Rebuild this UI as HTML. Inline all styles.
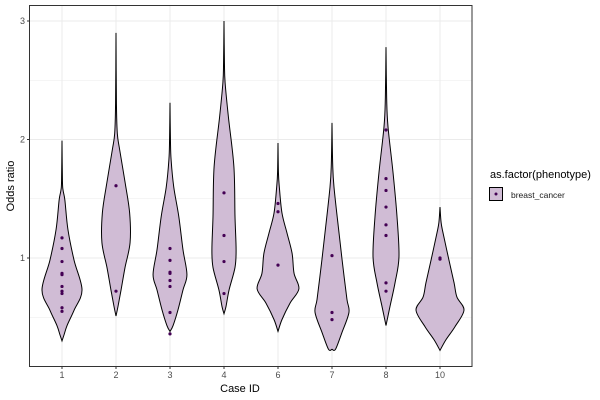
<!DOCTYPE html>
<html><head><meta charset="utf-8"><style>
body{margin:0;background:#fff}
svg{display:block;font-family:"Liberation Sans",sans-serif}
</style></head><body>
<svg id="chart" width="600" height="400">
<rect x="0" y="0" width="600" height="400" fill="#fff"/>
<g id="grid"></g><g id="violins"></g><g id="points"></g><g id="axes"></g>
<rect x="29.5" y="5.5" width="442.5" height="361" fill="none" stroke="#333" stroke-width="1"/>
<text x="240" y="392" font-size="11" text-anchor="middle" fill="#000">Case ID</text>
<text transform="translate(14,186) rotate(-90)" font-size="11" text-anchor="middle" fill="#000">Odds ratio</text>
<g>
<text x="490" y="178" font-size="11" fill="#000">as.factor(phenotype)</text>
<rect x="489.5" y="187.5" width="13" height="13" fill="#d0bcd5" stroke="#000" stroke-width="1"/>
<circle cx="496" cy="194" r="1.5" fill="#440154"/>
<text x="511" y="198" font-size="8.5" fill="#1a1a1a">breast_cancer</text>
</g>
</svg>
<script>
const categories=["1","2","3","4","6","7","8","10"];
const yTicks=[1,2,3];
const yMinor=[0.5,1.5,2.5];
// violin profiles: odds-ratio value levels and relative half-widths (0..1)
const v1Vals=[1.99,1.65,1.57,1.49,1.24,0.98,0.73,0.56,0.43,0.35,0.30];
const v1Dens=[0,0.02,0.05,0.13,0.27,0.55,0.91,0.55,0.23,0.09,0];
const v2Vals=[2.90,2.3,2.05,1.91,1.63,1.38,1.13,0.92,0.73,0.59,0.51];
const v2Dens=[0,0.02,0.06,0.17,0.42,0.62,0.64,0.41,0.23,0.09,0];
const v3Vals=[2.31,2.0,1.83,1.60,1.35,1.07,0.86,0.73,0.56,0.43,0.38];
const v3Dens=[0,0.02,0.05,0.17,0.4,0.59,0.77,0.59,0.36,0.14,0];
const v4Vals=[3.0,2.65,2.48,2.19,1.77,1.35,1.07,0.92,0.73,0.59,0.53];
const v4Dens=[0,0.02,0.05,0.2,0.45,0.5,0.55,0.5,0.23,0.09,0];
const v6Vals=[1.97,1.72,1.60,1.38,1.21,1.04,0.87,0.74,0.62,0.48,0.38];
const v6Dens=[0,0.02,0.06,0.18,0.41,0.64,0.73,0.95,0.55,0.18,0];
const v7Vals=[2.14,1.8,1.60,1.21,0.92,0.65,0.54,0.37,0.23,0.23];
const v7Dens=[0,0.03,0.09,0.32,0.5,0.68,0.77,0.45,0.16,0];
const v8Vals=[2.78,2.35,2.11,1.72,1.35,1.01,0.79,0.59,0.43];
const v8Dens=[0,0.03,0.09,0.32,0.5,0.59,0.41,0.18,0];
const v10Vals=[1.43,1.3,1.21,0.98,0.79,0.67,0.56,0.42,0.31,0.22];
const v10Dens=[0,0.05,0.14,0.41,0.64,0.77,1.09,0.68,0.27,0];
const violinVals=[v1Vals,v2Vals,v3Vals,v4Vals,v6Vals,v7Vals,v8Vals,v10Vals];
const violinDens=[v1Dens,v2Dens,v3Dens,v4Dens,v6Dens,v7Dens,v8Dens,v10Dens];
// observed points
const p1=[1.17,1.08,0.97,0.87,0.86,0.76,0.72,0.70,0.58,0.55];
const p2=[1.61,0.72];
const p3=[1.08,0.98,0.88,0.87,0.81,0.76,0.54,0.36];
const p4=[1.55,1.19,0.97,0.70];
const p6=[1.46,1.39,0.94];
const p7=[1.02,0.54,0.48];
const p8=[2.08,1.67,1.57,1.43,1.28,1.19,0.79,0.72];
const p10=[1.0,0.99];
const pointSets=[p1,p2,p3,p4,p6,p7,p8,p10];

const NS="http://www.w3.org/2000/svg";
const X0=62,XSTEP=54,MAXHW=22;
function xs(i){return X0+i*XSTEP;}
function ys(v){return 21+(3-v)*118.5;}
function mk(tag,attrs,parent){const e=document.createElementNS(NS,tag);for(const k in attrs)e.setAttribute(k,attrs[k]);parent.appendChild(e);return e;}
const grid=document.getElementById('grid'),axes=document.getElementById('axes');
yMinor.forEach(v=>{const l=mk('line',{x1:29.5,x2:472,y1:ys(v),y2:ys(v),stroke:'#ebebeb','stroke-width':0.5},grid);

});
yTicks.forEach(v=>{const l=mk('line',{x1:29.5,x2:472,y1:ys(v),y2:ys(v),stroke:'#ebebeb','stroke-width':1},grid);


const t=mk('line',{x1:27,x2:29.5,y1:ys(v),y2:ys(v),stroke:'#333'},axes);


const tx=mk('text',{x:25,y:ys(v)+3,'font-size':9,'text-anchor':'end',fill:'#4d4d4d'},axes);tx.textContent=v;

});
categories.forEach((c,i)=>{const l=mk('line',{x1:xs(i),x2:xs(i),y1:5.5,y2:366.5,stroke:'#ebebeb','stroke-width':1},grid);


const t=mk('line',{x1:xs(i),x2:xs(i),y1:366.5,y2:369,stroke:'#333'},axes);


const tx=mk('text',{x:xs(i),y:378,'font-size':9,'text-anchor':'middle',fill:'#4d4d4d'},axes);tx.textContent=c;

});
function smooth(pts){let d='M'+pts[0][0]+','+pts[0][1];
for(let i=0;i<pts.length-1;i++){const p0=pts[Math.max(0,i-1)],p1=pts[i],p2=pts[i+1],p3=pts[Math.min(pts.length-1,i+2)];
const c1=[p1[0]+(p2[0]-p0[0])/6,p1[1]+(p2[1]-p0[1])/6],c2=[p2[0]-(p3[0]-p1[0])/6,p2[1]-(p3[1]-p1[1])/6];
d+=' C'+c1[0]+','+c1[1]+' '+c2[0]+','+c2[1]+' '+p2[0]+','+p2[1];}return d;}
const vg=document.getElementById('violins');
violinVals.forEach((vals,i)=>{const dens=violinDens[i],cx=xs(i);
const right=vals.map((v,k)=>[cx+dens[k]*MAXHW,ys(v)]);
const left=vals.map((v,k)=>[cx-dens[k]*MAXHW,ys(v)]).reverse();
let d=smooth(right)+' L'+left[0][0]+','+left[0][1]+smooth(left).replace(/^M[^C]*/,' ')+' Z';
const p=mk('path',{d:d,fill:'#d0bcd5',stroke:'#000','stroke-width':1},vg);

});
const pg=document.getElementById('points');
pointSets.forEach((ps,i)=>ps.forEach(v=>{const c=mk('circle',{cx:xs(i),cy:ys(v),r:1.6,fill:'#440154'},pg);

}));
</script>
</body></html>
